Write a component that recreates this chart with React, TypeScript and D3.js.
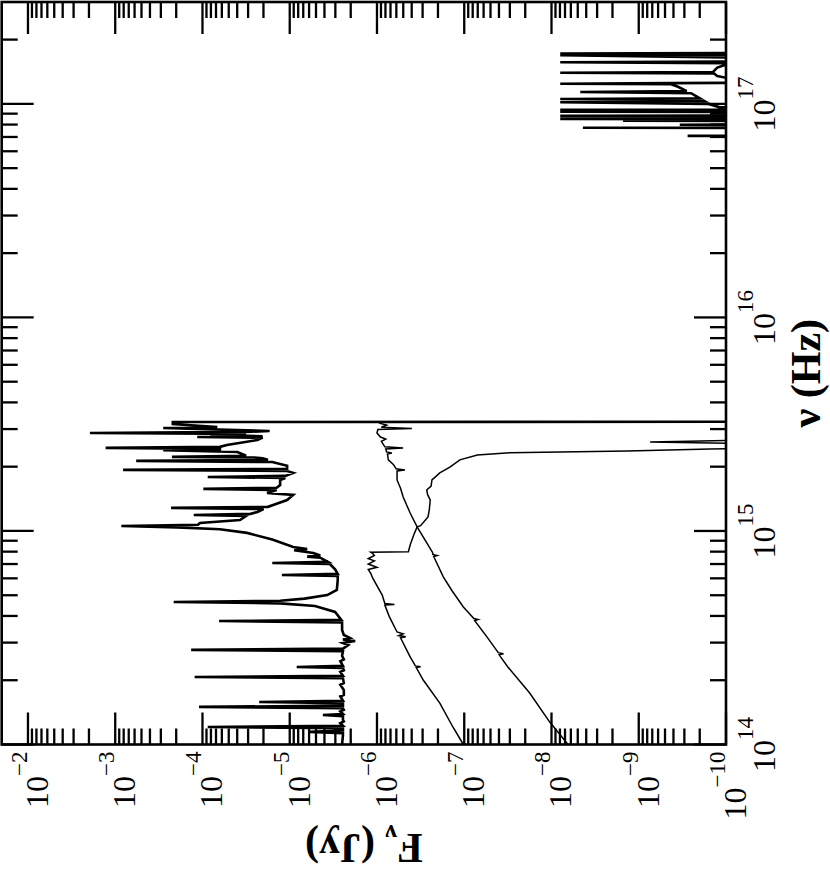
import React from "react";
import * as d3 from "d3";

// Axis ranges and tick decades
const nuDomain: [number, number] = [1e14, 3e17];
const fluxDomain: [number, number] = [2e-2, 1e-10];
const nuTickPowers = [14, 15, 16, 17];
const fluxTickPowers = [-2, -3, -4, -5, -6, -7, -8, -9, -10];

// Spectra as [log10 nu (Hz), log10 F_nu (Jy)]; values below 1e-10 lie off the plot
const emergentSpectrum: [number, number][] = [
  [14.0, -5.6], [14.044, -5.61],
  [14.053, -5.61], [14.059, -5.23], [14.065, -5.61],
  [14.076, -5.61], [14.082, -4.06], [14.088, -5.61],
  [14.1, -5.58], [14.108, -5.62], [14.115, -5.61],
  [14.133, -5.61], [14.138, -5.38], [14.143, -5.61],
  [14.155, -5.58], [14.162, -5.62],
  [14.17, -5.61], [14.176, -3.96], [14.182, -5.61],
  [14.193, -5.61], [14.199, -4.65], [14.205, -5.61],
  [14.225, -5.58], [14.232, -5.62], [14.255, -5.62], [14.28, -5.58], [14.288, -5.62],
  [14.31, -5.61], [14.316, -3.91], [14.322, -5.61],
  [14.34, -5.58], [14.347, -5.62],
  [14.358, -5.61], [14.363, -5.08], [14.368, -5.61],
  [14.39, -5.58], [14.398, -5.62], [14.415, -5.6],
  [14.437, -5.61], [14.443, -3.87], [14.449, -5.61],
  [14.466, -5.67], [14.475, -5.61], [14.485, -5.75], [14.492, -5.61], [14.499, -5.69], [14.513, -5.62], [14.536, -5.6],
  [14.572, -5.6], [14.578, -4.19], [14.584, -5.59],
  [14.621, -5.52], [14.649, -5.29], [14.661, -4.89], [14.667, -3.67], [14.673, -4.89], [14.683, -5.17], [14.7, -5.43], [14.724, -5.54], [14.77, -5.55],
  [14.789, -5.55], [14.794, -4.91], [14.799, -5.55],
  [14.82, -5.52],
  [14.845, -5.46], [14.85, -4.8], [14.855, -5.44],
  [14.875, -5.35], [14.88, -5.2], [14.885, -5.35], [14.897, -5.27], [14.91, -5.05], [14.915, -5.2], [14.925, -5.04], [14.96, -4.8], [14.991, -4.51], [15.008, -4.2],
  [15.017, -3.71], [15.023, -3.07], [15.029, -3.95], [15.037, -3.97], [15.051, -4.43],
  [15.07, -4.5], [15.075, -3.9], [15.08, -4.55],
  [15.089, -4.63],
  [15.103, -4.7], [15.108, -3.64], [15.113, -4.75],
  [15.122, -4.81], [15.145, -4.97], [15.169, -5.04], [15.178, -4.74],
  [15.192, -4.85], [15.197, -4.01], [15.202, -4.85],
  [15.215, -4.89], [15.239, -4.89],
  [15.248, -4.95], [15.253, -4.06], [15.258, -4.95],
  [15.272, -5.04],
  [15.281, -4.97], [15.286, -3.09], [15.291, -4.97],
  [15.305, -4.97],
  [15.323, -4.8], [15.328, -3.24], [15.333, -4.75],
  [15.34, -4.69],
  [15.344, -4.6], [15.347, -3.65], [15.352, -4.5],
  [15.37, -4.4], [15.378, -3.55], [15.381, -4.2],
  [15.384, -4.2], [15.389, -2.89], [15.394, -4.2],
  [15.403, -4.28], [15.426, -4.63], [15.437, -4.69], [15.44, -3.94], [15.443, -4.69], [15.45, -4.09],
  [15.454, -4.5], [15.459, -2.71], [15.464, -4.5],
  [15.468, -4.77], [15.482, -3.55], [15.487, -4.17], [15.501, -3.66], [15.51, -3.66],
  [15.512, -12], [16.8, -12],
  [16.848, -11], [16.85, -9.56], [16.852, -11],
  [16.886, -11], [16.888, -8.36], [16.89, -11],
  [16.9, -11], [16.902, -9.47], [16.904, -11],
  [16.919, -11], [16.921, -8.82], [16.923, -11],
  [16.928, -11], [16.93, -8.1], [16.932, -11],
  [16.942, -11], [16.944, -8.1], [16.946, -11],
  [16.961, -11], [16.963, -8.1], [16.965, -11],
  [16.97, -11], [16.972, -8.1], [16.974, -11],
  [16.985, -9.92], [17.0, -9.8],
  [17.008, -8.1], [17.011, -9.76],
  [17.02, -9.72], [17.023, -8.1], [17.026, -9.7],
  [17.05, -9.6], [17.056, -8.33], [17.06, -9.55],
  [17.08, -9.45], [17.092, -9.37], [17.094, -8.1], [17.097, -9.36],
  [17.1, -11], [17.115, -10.1], [17.13, -9.9], [17.143, -9.86], [17.146, -8.1], [17.149, -9.85],
  [17.17, -9.9], [17.19, -10.05],
  [17.195, -8.1], [17.199, -10.1], [17.216, -10.2],
  [17.228, -8.1], [17.232, -11],
  [17.236, -8.1], [17.24, -12], [17.48, -12],
];

const continuumUpper: [number, number][] = [
  [14.0, -8.19], [14.105, -7.98], [14.241, -7.75], [14.363, -7.5], [14.42, -7.4],
  [14.425, -7.45], [14.43, -7.39], [14.504, -7.26], [14.58, -7.12], [14.585, -7.16],
  [14.59, -7.11], [14.644, -6.99], [14.72, -6.86], [14.785, -6.76], [14.88, -6.65],
  [14.885, -6.69], [14.89, -6.64], [14.897, -6.64], [14.958, -6.55], [15.019, -6.46],
  [15.084, -6.38], [15.159, -6.3], [15.2, -6.27], [15.239, -6.23], [15.281, -6.23],
  [15.286, -6.32], [15.291, -6.22], [15.31, -6.19], [15.333, -6.13], [15.36, -6.12],
  [15.365, -6.17], [15.37, -6.11], [15.384, -6.1], [15.389, -6.3], [15.394, -6.09],
  [15.42, -6.05], [15.43, -6.1], [15.44, -6.04], [15.459, -6.0], [15.475, -6.01],
  [15.48, -6.4], [15.486, -6.05], [15.496, -6.11], [15.505, -6.03], [15.51, -6.03],
  [15.512, -12], [15.6, -12],
];

const continuumLower: [number, number][] = [
  [14.0, -6.99], [14.082, -6.87], [14.194, -6.72], [14.302, -6.53], [14.36, -6.45],
  [14.364, -6.5], [14.368, -6.44], [14.41, -6.38], [14.5, -6.27], [14.505, -6.33],
  [14.51, -6.25], [14.518, -6.3], [14.527, -6.23], [14.6, -6.14], [14.653, -6.09],
  [14.656, -6.2], [14.66, -6.09], [14.7, -6.06], [14.78, -5.95], [14.8, -5.93],
  [14.82, -5.9], [14.83, -6.0], [14.845, -5.9], [14.86, -5.97], [14.87, -5.9],
  [14.885, -5.97], [14.895, -5.95], [14.9, -5.93], [14.903, -6.36], [14.934, -6.38],
  [14.98, -6.42], [15.019, -6.46], [15.025, -6.5], [15.066, -6.585], [15.1, -6.6],
  [15.145, -6.61], [15.17, -6.58], [15.192, -6.57], [15.21, -6.62], [15.239, -6.63],
  [15.272, -6.72], [15.3, -6.84], [15.333, -6.95], [15.356, -7.15], [15.366, -7.52],
  [15.375, -8.87], [15.384, -9.82], [15.389, -12], [15.4, -12],
  [15.407, -10.5], [15.417, -9.13], [15.427, -10.5], [15.435, -12], [15.5, -12],
];

const SERIF = "'Liberation Serif', 'Times New Roman', serif";

export default function App() {
  const W = 830;
  const H = 872;
  // Drawn in the original (unrotated) frame, then turned 90 degrees counter-clockwise.
  const u0 = 127.5, u1 = 870; // nu axis pixel range
  const v0 = 1.7, v1 = 726; // flux axis pixel range
  const x = d3.scaleLog().domain(nuDomain).range([u0, u1]);
  const y = d3.scaleLog().domain(fluxDomain).range([v0, v1]);
  const line = d3
    .line<[number, number]>()
    .x((d) => x(Math.pow(10, d[0])))
    .y((d) => y(Math.pow(10, d[1])));

  const nuTicks: { v: number; major: boolean }[] = [];
  for (let p = 14; p <= 17; p++)
    for (let m = 1; m <= 9; m++) {
      const val = m * Math.pow(10, p);
      if (val >= nuDomain[0] * 0.999 && val < nuDomain[1] * 0.99) nuTicks.push({ v: val, major: m === 1 });
    }
  const fTicks: { v: number; major: boolean }[] = [];
  for (let p = -10; p <= -2; p++)
    for (let m = 1; m <= 9; m++) {
      const val = m * Math.pow(10, p);
      if (val >= fluxDomain[1] * 0.999 && val < fluxDomain[0] * 0.99) fTicks.push({ v: val, major: m === 1 });
    }
  const majLen = 32, minLen = 16, tickW = 2.3;

  return (
    <svg width={W} height={H} style={{ position: "absolute", left: 0, top: 0, background: "#fff" }}>
      <defs>
        <clipPath id="plotClip">
          <rect x={u0} y={v0} width={u1 - u0} height={v1 - v0} />
        </clipPath>
      </defs>
      <g transform={`translate(0,${H}) rotate(-90)`}>
        <g clipPath="url(#plotClip)" fill="none" stroke="#000" strokeLinejoin="miter">
          <path d={line(continuumUpper) || ""} strokeWidth={1.5} />
          <path d={line(continuumLower) || ""} strokeWidth={1.5} />
          <path d={line(emergentSpectrum) || ""} strokeWidth={2.6} />
        </g>
        <g stroke="#000" strokeWidth={tickW}>
          {nuTicks.map((t, i) => {
            const px = x(t.v);
            const L = t.major ? majLen : minLen;
            return (
              <g key={"n" + i}>
                <line x1={px} x2={px} y1={v1} y2={v1 - L} />
                <line x1={px} x2={px} y1={v0} y2={v0 + L} />
              </g>
            );
          })}
          {fTicks.map((t, i) => {
            const py = y(t.v);
            const L = t.major ? majLen : minLen;
            return (
              <g key={"f" + i}>
                <line x1={u0} x2={u0 + L} y1={py} y2={py} />
                <line x1={u1} x2={u1 - L} y1={py} y2={py} />
              </g>
            );
          })}
        </g>
        <rect x={u0} y={v0} width={u1 - u0} height={v1 - v0} fill="none" stroke="#000" strokeWidth={2.6} />
        <g fontFamily={SERIF} fill="#000">
          {nuTickPowers.map((p) => (
            <text key={"nl" + p} x={x(Math.pow(10, p))} y={v1 + 49} textAnchor="middle" fontSize={32}>
              10
              <tspan dy={-22} fontSize={23}>
                {p}
              </tspan>
            </text>
          ))}
          {fluxTickPowers.map((p) => (
            <text key={"fl" + p} x={u0 - 7} y={y(Math.pow(10, p)) + 20} textAnchor="end" fontSize={32}>
              10
              <tspan dy={-21} fontSize={23}>
                {"\u2212" + Math.abs(p)}
              </tspan>
            </text>
          ))}
          <text x={(u0 + u1) / 2} y={v1 + 94} textAnchor="middle" fontSize={42} fontWeight="bold">
            ν (Hz)
          </text>
          <text
            transform={`translate(38,${(v0 + v1) / 2}) rotate(-90)`}
            textAnchor="middle"
            fontSize={42}
            fontWeight="bold"
          >
            F
            <tspan dy={9} fontSize={26}>
              ν
            </tspan>
            <tspan dy={-9}>{"  (Jy)"}</tspan>
          </text>
        </g>
      </g>
    </svg>
  );
}
